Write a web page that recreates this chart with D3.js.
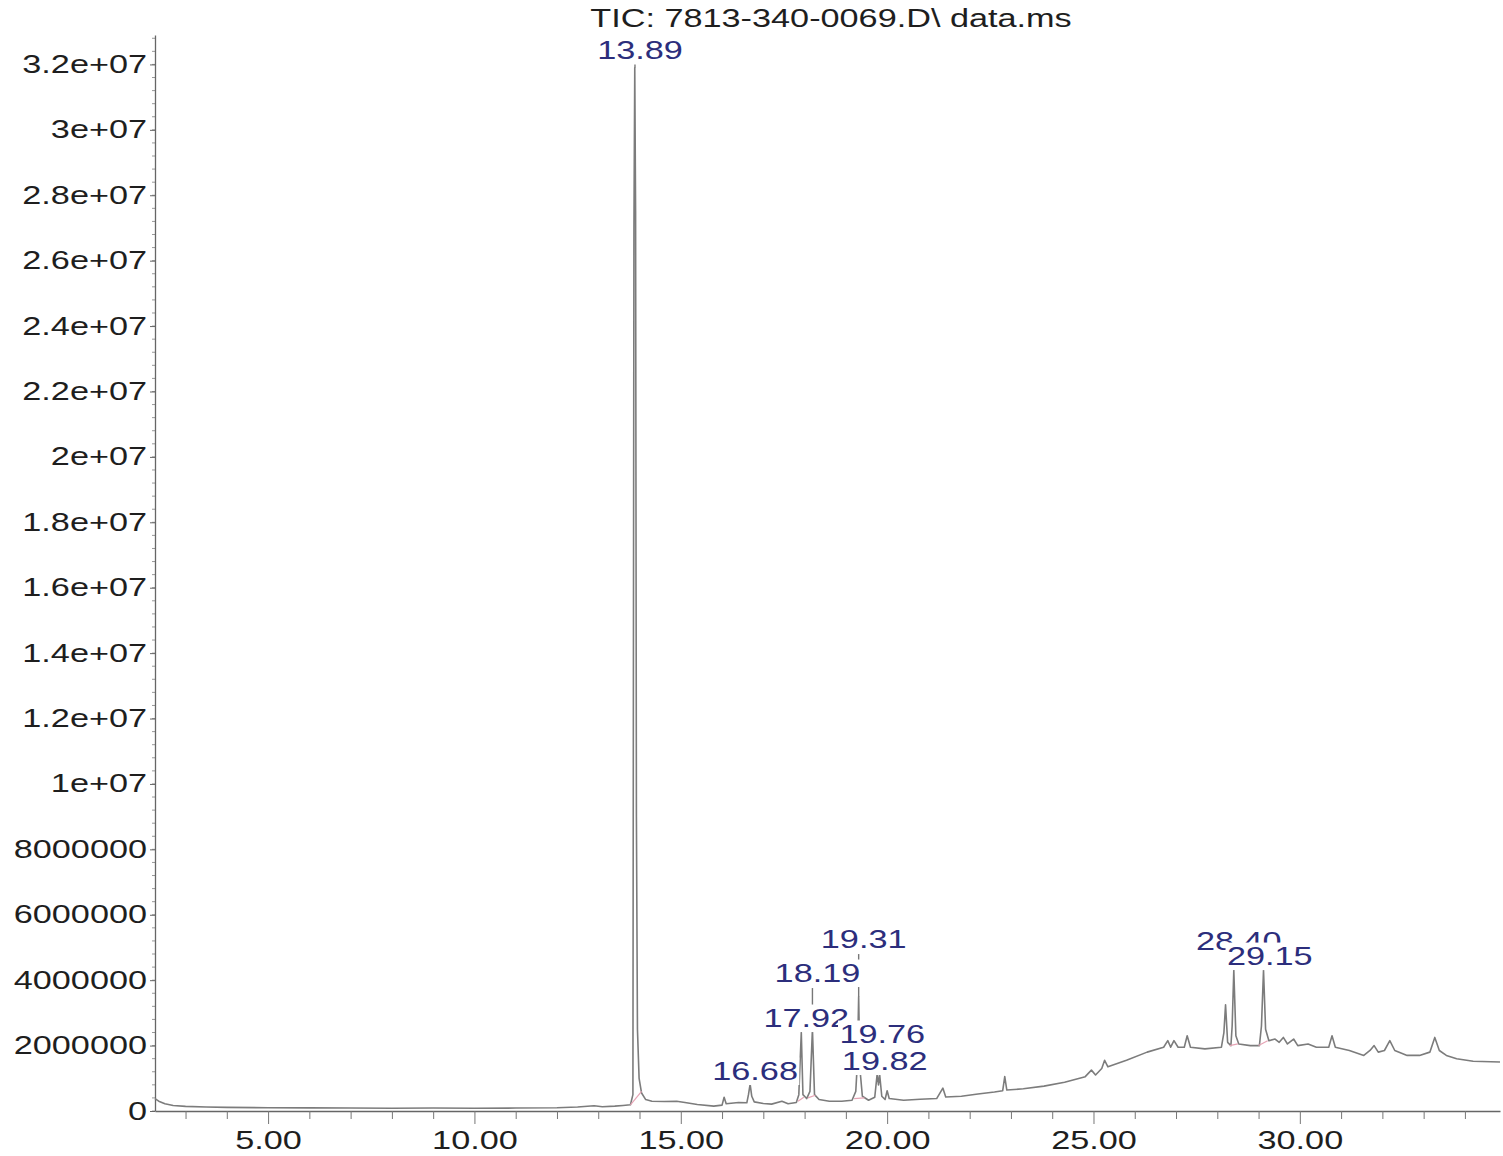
<!DOCTYPE html>
<html><head><meta charset="utf-8">
<script src="https://cdn.jsdelivr.net/npm/d3@7"></script>
<style>body{margin:0;background:#fff} svg{display:block}</style>
</head><body>
<svg id="chart" width="1503" height="1156"></svg>
<script>
// ---- data ----
const chartTitle = "TIC: 7813-340-0069.D\\ data.ms";
const timeMin = [2.26,2.35,2.5,2.7,3.0,3.5,4.0,5.0,6.0,7.0,8.0,9.0,10.0,11.0,12.0,12.5,12.9,13.1,13.4,13.6,13.78,13.84,13.865,13.885,13.905,13.925,13.95,13.99,14.05,14.15,14.3,14.6,14.9,15.1,15.4,15.8,16.0,16.05,16.1,16.4,16.6,16.64,16.68,16.72,16.78,17.0,17.2,17.45,17.6,17.8,17.86,17.92,17.96,18.05,18.13,18.19,18.24,18.35,18.6,18.9,19.15,19.24,19.28,19.31,19.34,19.4,19.55,19.7,19.76,19.79,19.82,19.87,19.95,20.0,20.05,20.4,20.8,21.2,21.35,21.42,21.8,22.2,22.6,22.8,22.85,22.9,23.3,23.8,24.3,24.8,24.95,25.05,25.2,25.27,25.35,25.8,26.3,26.7,26.8,26.87,26.95,27.05,27.2,27.27,27.35,27.7,28.1,28.16,28.2,28.25,28.33,28.36,28.40,28.45,28.52,28.8,29.02,29.07,29.12,29.17,29.25,29.4,29.5,29.6,29.7,29.85,29.95,30.2,30.4,30.7,30.78,30.86,31.2,31.55,31.7,31.8,31.9,32.05,32.18,32.3,32.6,32.9,33.15,33.27,33.38,33.55,33.8,34.2,34.85];
const intensity = [380000,300000,220000,170000,140000,120000,110000,100000,95000,90000,85000,90000,85000,90000,100000,120000,160000,130000,150000,170000,190000,500000,27000000,31900000,27500000,9000000,2500000,1000000,550000,350000,300000,290000,300000,260000,200000,150000,180000,420000,220000,260000,250000,500000,820000,450000,280000,230000,210000,300000,220000,260000,500000,2400000,500000,380000,600000,2500000,500000,350000,300000,300000,330000,600000,1500000,3500000,1300000,450000,330000,420000,1150000,800000,1100000,450000,350000,620000,380000,330000,360000,380000,700000,430000,450000,520000,580000,620000,1050000,640000,680000,760000,880000,1050000,1250000,1100000,1300000,1550000,1350000,1550000,1800000,1950000,2150000,1950000,2150000,1950000,1950000,2300000,1950000,1900000,1950000,2400000,3250000,2100000,2000000,2600000,4300000,2300000,2050000,2000000,2000000,2600000,4300000,2500000,2150000,2200000,2100000,2250000,2050000,2200000,2000000,2050000,1950000,1950000,2300000,1950000,1850000,1700000,1850000,2000000,1800000,1850000,2150000,1850000,1700000,1700000,1800000,2250000,1850000,1700000,1600000,1520000,1500000];

const peakTimes = [13.89,16.68,17.92,18.19,19.31,19.76,19.82,28.40,29.15];
const peakLabels = ["13.89","16.68","17.92","18.19","19.31","19.76","19.82","28.40","29.15"];
const peakApex = [31900000,820000,2400000,2500000,3500000,1150000,1100000,4300000,4300000];
const labelLevel = [32180000,947000,2567000,3943000,4982000,2078000,1253000,4921000,4462000];

// integration baselines: [t, v] start and end points
const integrationStart = [[13.78,190000],[17.84,300000],[18.08,400000],[19.2,380000],[28.3,2000000],[29.0,2000000]];
const integrationEnd = [[14.05,600000],[17.98,420000],[18.26,480000],[19.45,400000],[28.5,2050000],[29.22,2150000]];

const yTickValues = [0,2e6,4e6,6e6,8e6,1e7,1.2e7,1.4e7,1.6e7,1.8e7,2e7,2.2e7,2.4e7,2.6e7,2.8e7,3e7,3.2e7];
const yTickLabels = ["0","2000000","4000000","6000000","8000000","1e+07","1.2e+07","1.4e+07","1.6e+07","1.8e+07","2e+07","2.2e+07","2.4e+07","2.6e+07","2.8e+07","3e+07","3.2e+07"];
const xMajorTicks = [5,10,15,20,25,30];
const xMajorLabels = ["5.00","10.00","15.00","20.00","25.00","30.00"];

// ---- drawing ----
const SX = 1.37;
const FONT = "'Liberation Sans', Arial, sans-serif";
const FS = 25;
const svg = d3.select("#chart");
const x = d3.scaleLinear().domain([2.26, 34.85]).range([155, 1500]);
const y = d3.scaleLinear().domain([0, 3.29e7]).range([1111, 35]);

// title
svg.append("text")
  .attr("transform", `translate(831,27) scale(${SX},1)`)
  .attr("text-anchor","middle")
  .style("font-family",FONT).style("font-size",FS+"px").attr("fill","#1e1e1e")
  .text(chartTitle);

// y axis minor ticks
const yMinor = d3.range(0, 3.29e7, 4e5);
svg.append("g").selectAll("line").data(yMinor).join("line")
  .attr("x1",152).attr("x2",155).attr("y1",d=>y(d)).attr("y2",d=>y(d))
  .attr("stroke","#999").attr("stroke-width",1);

// y axis
const gy = svg.append("g").attr("transform","translate(155,0)")
  .call(d3.axisLeft(y).tickValues(yTickValues).tickFormat((d,i)=>yTickLabels[i]).tickSize(5).tickSizeOuter(0).tickPadding(3));
gy.select(".domain").attr("stroke","#666").attr("stroke-width",1.3);
gy.selectAll(".tick line").attr("stroke","#666");
gy.selectAll(".tick text")
  .attr("x", -8/SX).attr("transform",`scale(${SX},1)`)
  .style("font-family",FONT).style("font-size",FS+"px").attr("fill","#1e1e1e");

// x axis minor
const xMinor = d3.range(3, 35, 1).filter(d => d % 5 !== 0);
const gxm = svg.append("g").attr("transform","translate(0,1111)")
  .call(d3.axisBottom(x).tickValues(xMinor).tickFormat("").tickSize(8).tickSizeOuter(0));
gxm.select(".domain").attr("stroke","#666").attr("stroke-width",1.3);
gxm.selectAll(".tick line").attr("stroke","#777");
const gx = svg.append("g").attr("transform","translate(0,1111)")
  .call(d3.axisBottom(x).tickValues(xMajorTicks).tickFormat((d,i)=>xMajorLabels[i]).tickSize(13).tickSizeOuter(0).tickPadding(7));
gx.select(".domain").remove();
gx.selectAll(".tick line").attr("stroke","#777");
gx.selectAll(".tick text")
  .attr("transform",`scale(${SX},1)`)
  .style("font-family",FONT).style("font-size",FS+"px").attr("fill","#1e1e1e");

// trace
const pts = timeMin.map((t,i)=>[t,intensity[i]]);
const line = d3.line().x(d=>x(d[0])).y(d=>y(d[1]));
svg.append("path").datum(pts).attr("d",line)
  .attr("fill","none").attr("stroke","#7c7c7c").attr("stroke-width",1.6).attr("stroke-linejoin","round");

// integration baselines
svg.append("g").selectAll("line").data(integrationStart).join("line")
  .attr("x1",d=>x(d[0])).attr("y1",d=>y(d[1]))
  .attr("x2",(d,i)=>x(integrationEnd[i][0])).attr("y2",(d,i)=>y(integrationEnd[i][1]))
  .attr("stroke","#e6a3b4").attr("stroke-width",1.2);

// leader lines (drawn before labels so label boxes occlude)
const LABEL_DX = 5;
const leaders = peakTimes.map((t,i)=>({t, top: y(labelLevel[i])+6, bottom: y(peakApex[i])}))
  .filter(d => d.top < d.bottom - 2);
svg.append("g").selectAll("line").data(leaders).join("line")
  .attr("x1",d=>x(d.t)).attr("x2",d=>x(d.t))
  .attr("y1",d=>d.top).attr("y2",d=>d.bottom)
  .attr("stroke","#777").attr("stroke-width",1.4);

// labels with white boxes, in order
peakTimes.forEach((t,i)=>{
  const g = svg.append("g")
    .attr("transform",`translate(${x(t)+LABEL_DX},${y(labelLevel[i])}) scale(${SX},1)`);
  const rect = g.append("rect").attr("fill","#fff");
  const txt = g.append("text").attr("text-anchor","middle")
    .style("font-family",FONT).style("font-size",FS+"px").attr("fill","#2c2e7c")
    .text(peakLabels[i]);
  const bb = txt.node().getBBox();
  rect.attr("x",bb.x-1).attr("y",bb.y).attr("width",bb.width+2).attr("height",bb.height);
});
</script>
</body></html>
